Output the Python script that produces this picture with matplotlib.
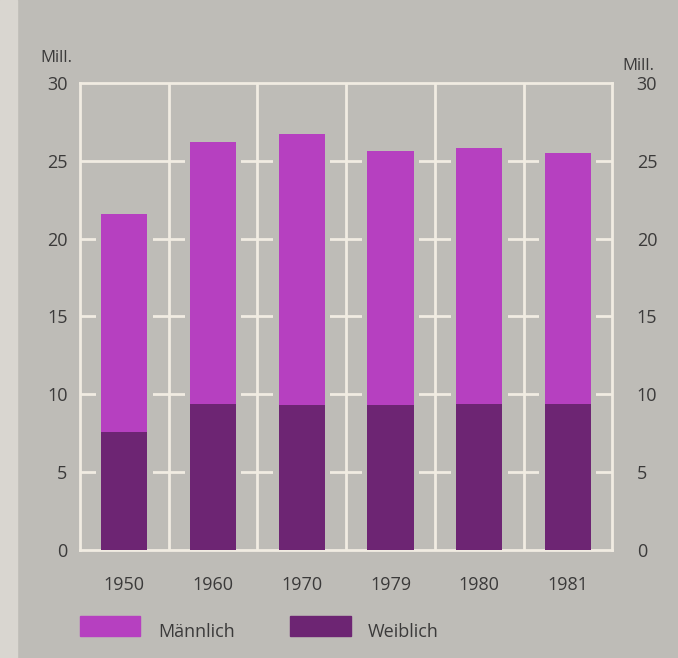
import matplotlib.pyplot as plt
import matplotlib.transforms as mtrans
from matplotlib.patches import Rectangle

# Erwerbspersonen in Mill.
jahre = ['1950', '1960', '1970', '1979', '1980', '1981']
weiblich = [7.6, 9.4, 9.3, 9.3, 9.4, 9.4]
maennlich = [14.0, 16.8, 17.4, 16.3, 16.4, 16.1]
yticks = [0, 5, 10, 15, 20, 25, 30]

bg = '#bebcb7'
linie = '#f1ece2'
c_m = '#b640c0'
c_w = '#6d2573'
txt = '#3b3a3a'

plt.rcParams['font.family'] = ['Open Sans', 'DejaVu Sans']

fig = plt.figure(figsize=(6.78, 6.58), dpi=100)
fig.patch.set_facecolor(bg)
# heller Papierrand links
fig.add_artist(Rectangle((0, 0), 0.025, 1, transform=fig.transFigure,
                         color='#d9d6d0', zorder=0))
ax = fig.add_axes([0.118, 0.164, 0.785, 0.710])
ax.set_facecolor(bg)

x = list(range(len(jahre)))
gesamt = [w + m for w, m in zip(weiblich, maennlich)]

# Gitter
for y in yticks[1:-1]:
    ax.axhline(y, color=linie, lw=2, zorder=1)
for k in range(1, len(jahre)):
    ax.axvline(k - 0.5, color=linie, lw=2, zorder=1)

# Aussparung um die Balken
ax.bar(x, [g + 0.3 for g in gesamt], width=0.64, color=bg, zorder=2)
ax.bar(x, weiblich, width=0.52, color=c_w, zorder=3)
ax.bar(x, maennlich, width=0.52, bottom=weiblich, color=c_m, zorder=3)

ax.set_xlim(-0.5, len(jahre) - 0.5)
ax.set_ylim(0, 30)
for s in ax.spines.values():
    s.set_color(linie)
    s.set_linewidth(2)

ax.set_yticks(yticks)
ax.tick_params(axis='y', length=0, labelsize=13, labelcolor=txt, pad=9,
               labelright=True)
ax.set_xticks(x)
ax.set_xticklabels(jahre, fontsize=13, color=txt)
ax.tick_params(axis='x', length=0, pad=19)

# rechte Zahlen etwas weiter weg vom Rahmen
off = mtrans.ScaledTranslation(0.12, 0, fig.dpi_scale_trans)
for t in ax.yaxis.get_major_ticks():
    t.label2.set_transform(t.label2.get_transform() + off)

fig.text(0.059, 0.912, 'Mill.', fontsize=12, color=txt, va='center')
fig.text(0.918, 0.900, 'Mill.', fontsize=12, color=txt, va='center')

# Legende
fig.add_artist(Rectangle((0.118, 0.034), 0.089, 0.030, transform=fig.transFigure,
                         color=c_m))
fig.text(0.233, 0.040, 'Männlich', fontsize=13, color=txt, va='center')
fig.add_artist(Rectangle((0.428, 0.034), 0.089, 0.030, transform=fig.transFigure,
                         color=c_w))
fig.text(0.543, 0.040, 'Weiblich', fontsize=13, color=txt, va='center')

fig.savefig('out.png', dpi=100, facecolor=bg)
